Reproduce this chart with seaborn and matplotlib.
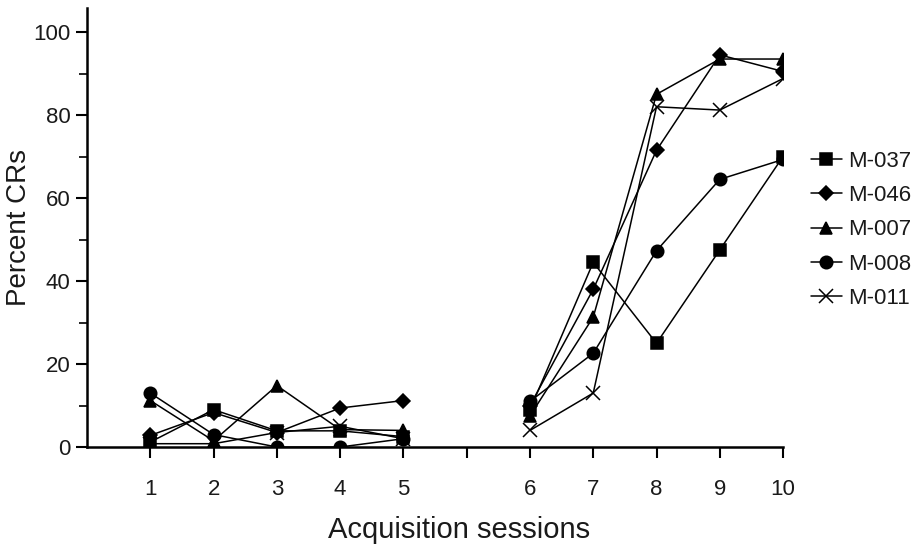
import matplotlib
matplotlib.use("Agg")
import matplotlib.pyplot as plt
import seaborn as sns
import pandas as pd
import numpy as np

sessions = [1, 2, 3, 4, 5, 6, 7, 8, 9, 10]
subjects = ["M-037", "M-046", "M-007", "M-008", "M-011"]
m037 = [1.2, 9.0, 3.9, 3.9, 2.5, 9.0, 44.5, 25.0, 47.5, 70.0]
m046 = [2.8, 8.3, 3.5, 9.4, 11.2, 10.0, 38.0, 71.5, 94.5, 90.5]
m007 = [11.2, 1.5, 14.8, 4.2, 4.0, 7.5, 31.3, 85.0, 93.5, 93.5]
m008 = [13.0, 3.0, 0.0, 0.0, 2.0, 11.0, 22.6, 47.3, 64.5, 69.3]
m011 = [0.8, 0.8, 3.5, 5.0, 2.0, 4.0, 13.0, 82.0, 81.2, 88.8]
tick_labels = ["1", "2", "3", "4", "5", "", "6", "7", "8", "9", "10"]

values = {"M-037": m037, "M-046": m046, "M-007": m007, "M-008": m008, "M-011": m011}
rows = []
for s in subjects:
    for sess, v in zip(sessions, values[s]):
        pos = sess if sess <= 5 else sess + 1
        seg = "a" if sess <= 5 else "b"
        rows.append({"subject": s, "pos": pos, "value": v, "seg": seg})
df = pd.DataFrame(rows)

sns.set_style("white")
plt.rcParams["font.family"] = ["Liberation Sans", "DejaVu Sans"]

fig = plt.figure(figsize=(9.18, 5.51), dpi=100)
ax = fig.add_axes([0.0948, 0.1887, 0.853 - 0.0948, 0.9855 - 0.1887])

markers = {"M-037": "s", "M-046": "D", "M-007": "^", "M-008": "o", "M-011": "x"}
msizes = {"M-037": 9, "M-046": 7, "M-007": 9, "M-008": 9, "M-011": 10}

for s in subjects:
    for seg in ["a", "b"]:
        sub = df[(df.subject == s) & (df.seg == seg)]
        sns.lineplot(data=sub, x="pos", y="value", estimator=None, sort=False,
                     marker=markers[s], markersize=msizes[s], color="black",
                     markeredgecolor="black", markerfacecolor="black",
                     markeredgewidth=1.1, linewidth=1.1, ax=ax,
                     label=s if seg == "a" else None)

ax.set_xlim(0, 11)
ax.set_ylim(0, 105.8)
ax.set_xticks(range(1, 12))
ax.set_xticklabels(tick_labels)
ax.set_yticks([0, 20, 40, 60, 80, 100])
ax.set_yticks([10, 30, 50, 70, 90], minor=True)
ax.tick_params(axis="both", which="major", direction="out", length=8, width=1.5,
               labelsize=16, color="black", labelcolor="#1a1a1a", pad=4,
               bottom=True, left=True)
ax.tick_params(axis="x", pad=15)
ax.tick_params(axis="y", which="minor", direction="out", length=6, width=1.2,
               color="black", left=True)
for sp in ["top", "right"]:
    ax.spines[sp].set_visible(False)
for sp in ["left", "bottom"]:
    ax.spines[sp].set_color("black")
    ax.spines[sp].set_linewidth(1.8)

ax.set_xlabel("Acquisition sessions", fontsize=21, color="#1a1a1a")
ax.set_ylabel("Percent CRs", fontsize=20, color="#1a1a1a")
ax.xaxis.set_label_coords(0.534, -0.158)
ax.yaxis.set_label_coords(-0.079, 0.5)

handles, labels = ax.get_legend_handles_labels()
hl = [(h, l) for h, l in zip(handles, labels) if l in subjects]
leg = ax.legend([h for h, _ in hl], [l for _, l in hl], loc="upper left",
                bbox_to_anchor=(1.027, 0.695), frameon=False, fontsize=16,
                handlelength=1.4, handletextpad=0.27, labelspacing=0.6,
                borderaxespad=0)
for t in leg.get_texts():
    t.set_color("#1a1a1a")

fig.savefig("out.png", dpi=100)
